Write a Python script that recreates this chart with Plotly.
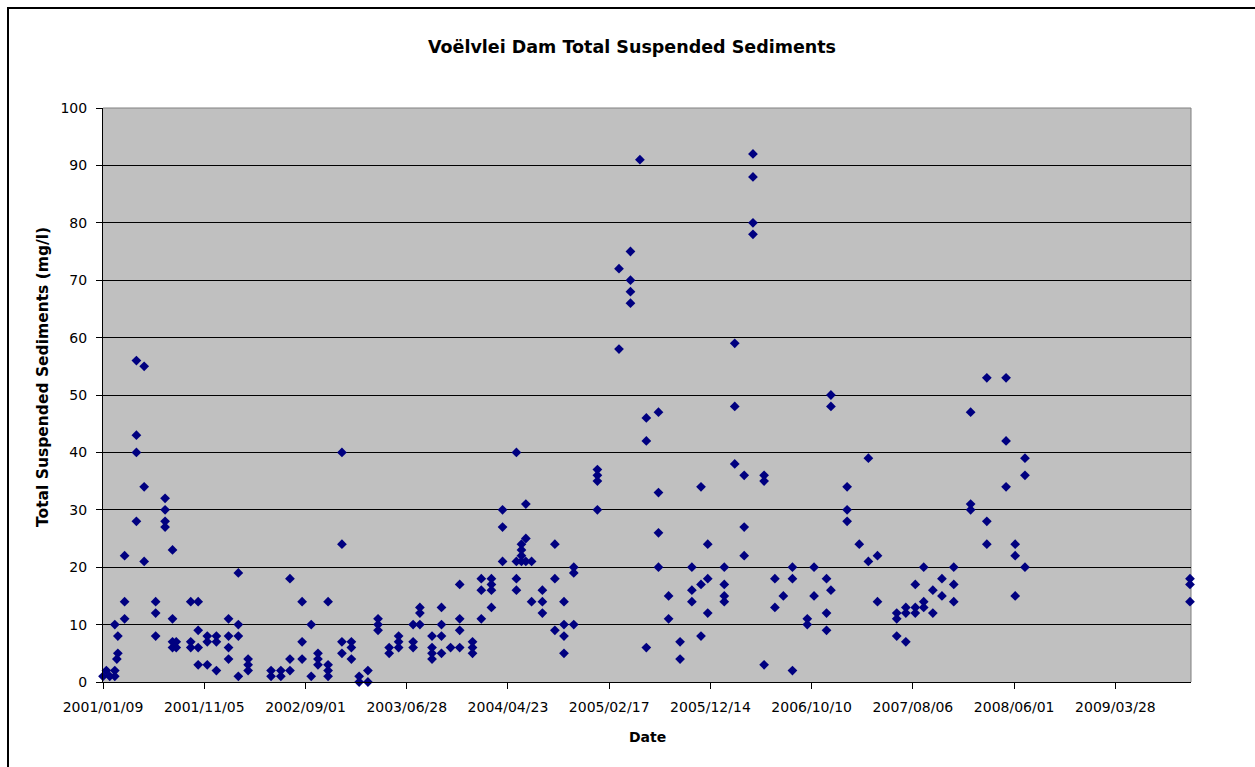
import plotly.graph_objects as go

# Sampling dates and Total Suspended Sediments (mg/l)
sample_dates = (
    ["2001-01-09", "2001-01-19", "2001-01-29"]
    + ["2001-02-13"] * 3 + ["2001-02-19"] + ["2001-02-22"] * 2
    + ["2001-03-14"] * 3 + ["2001-04-18"] * 4 + ["2001-05-11"] * 3
    + ["2001-06-14"] * 3 + ["2001-07-12"] * 4 + ["2001-08-03"] * 4
    + ["2001-08-14"] * 2 + ["2001-09-26"] * 3 + ["2001-10-18"] * 4
    + ["2001-11-14"] * 3 + ["2001-12-11"] * 3 + ["2002-01-16"] * 4
    + ["2002-02-14"] * 4 + ["2002-03-15"] * 3 + ["2002-05-22"] * 2
    + ["2002-06-20"] * 2 + ["2002-07-17"] * 3 + ["2002-08-22"] * 3
    + ["2002-09-18"] * 2 + ["2002-10-08"] * 3 + ["2002-11-07"] * 4
    + ["2002-12-18"] * 4 + ["2003-01-15"] * 3 + ["2003-02-07"] * 2
    + ["2003-03-05"] * 2 + ["2003-04-04"] * 3 + ["2003-05-07"] * 2
    + ["2003-06-04"] * 3 + ["2003-07-17"] * 3 + ["2003-08-06"] * 3
    + ["2003-09-11"] * 4 + ["2003-10-09"] * 4 + ["2003-11-05"]
    + ["2003-12-02"] * 4 + ["2004-01-09"] * 3 + ["2004-02-04"] * 3
    + ["2004-03-05"] * 4 + ["2004-04-07"] * 3 + ["2004-05-18"] * 4
    + ["2004-06-02"] * 4 + ["2004-06-15"] * 3 + ["2004-07-02"] * 2
    + ["2004-08-03"] * 3 + ["2004-09-09"] * 3 + ["2004-10-06"] * 4
    + ["2004-11-04"] * 3 + ["2005-01-13"] * 4 + ["2005-03-18"] * 2
    + ["2005-04-21"] * 4 + ["2005-05-19"] + ["2005-06-07"] * 3
    + ["2005-07-13"] * 4 + ["2005-08-12"] * 2 + ["2005-09-15"] * 2
    + ["2005-10-20"] * 3 + ["2005-11-16"] * 3 + ["2005-12-06"] * 3
    + ["2006-01-24"] * 4 + ["2006-02-24"] * 3 + ["2006-03-24"] * 3
    + ["2006-04-19"] * 4 + ["2006-05-22"] * 3 + ["2006-06-23"] * 2
    + ["2006-07-18"] + ["2006-08-14"] * 3 + ["2006-09-27"] * 2
    + ["2006-10-17"] * 2 + ["2006-11-23"] * 3 + ["2006-12-06"] * 3
    + ["2007-01-23"] * 3 + ["2007-02-28"] + ["2007-03-27"] * 2
    + ["2007-04-23"] * 2 + ["2007-06-19"] * 3 + ["2007-07-16"] * 3
    + ["2007-08-13"] * 3 + ["2007-09-07"] * 3 + ["2007-10-04"] * 2
    + ["2007-10-31"] * 2 + ["2007-12-05"] * 3 + ["2008-01-24"] * 3
    + ["2008-03-12"] * 3 + ["2008-05-08"] * 3 + ["2008-06-04"] * 3
    + ["2008-07-03"] * 3 + ["2009-11-04"] * 3
)

tss_mg_l = [
    1, 2, 1,
    1, 2, 10, 4, 5, 8,
    11, 14, 22, 56, 43, 40, 28, 55, 34, 21,
    14, 12, 8, 32, 30, 28, 27, 23, 11, 7, 6,
    7, 6, 14, 7, 6, 14, 9, 6, 3,
    8, 7, 3, 8, 7, 2, 11, 8, 6, 4,
    19, 10, 8, 1, 4, 3, 2, 2, 1,
    2, 1, 18, 4, 2, 14, 7, 4,
    10, 1, 5, 4, 3, 14, 3, 2, 1,
    40, 24, 7, 5, 7, 6, 4, 1, 0,
    2, 0, 11, 10, 9, 6, 5,
    8, 7, 6, 10, 7, 6, 13, 12, 10,
    8, 6, 5, 4, 13, 10, 8, 5, 6,
    17, 11, 9, 6, 7, 6, 5, 18, 16, 11,
    18, 17, 16, 13, 30, 27, 21, 40, 21, 18, 16,
    24, 23, 22, 21, 31, 25, 21, 21, 14,
    16, 14, 12, 24, 18, 9, 14, 10, 8, 5,
    20, 19, 10, 37, 36, 35, 30, 72, 58,
    75, 70, 68, 66, 91, 46, 42, 6,
    47, 33, 26, 20, 15, 11, 7, 4,
    20, 16, 14, 34, 17, 8, 24, 18, 12,
    20, 17, 15, 14, 59, 48, 38, 36, 27, 22,
    92, 88, 80, 78, 36, 35, 3, 18, 13,
    15, 20, 18, 2, 11, 10,
    20, 15, 18, 12, 9, 50, 48, 16,
    34, 30, 28, 24, 39, 21,
    22, 14, 12, 11, 8, 13, 12, 7,
    17, 13, 12, 20, 14, 13, 16, 12,
    18, 15, 20, 17, 14, 47, 31, 30,
    53, 28, 24, 53, 42, 34, 24, 22, 15,
    39, 36, 20, 18, 17, 14,
]

tick_dates = ["2001-01-09", "2001-11-05", "2002-09-01", "2003-06-28",
              "2004-04-23", "2005-02-17", "2005-12-14", "2006-10-10",
              "2007-08-06", "2008-06-01", "2009-03-28"]
tick_labels = [d.replace("-", "/") for d in tick_dates]
x_range = ["2001-01-09", "2009-11-07"]
y_ticks = list(range(0, 101, 10))

W, H = 1255, 767
L, R, T, B = 103, 64, 108, 85
pw, ph = W - L - R, H - T - B

def px_x(p):
    return (p - L) / pw

def px_y(p):
    return (H - B - p) / ph

fig = go.Figure(
    go.Scatter(
        x=sample_dates, y=tss_mg_l, mode="markers",
        marker=dict(symbol="diamond", size=7.5, color="#000080",
                    line=dict(width=0)),
        cliponaxis=False, showlegend=False,
    )
)

tick_font = dict(family="DejaVu Sans", size=14, color="black")

fig.update_layout(
    width=W, height=H,
    margin=dict(l=L, r=R, t=T, b=B),
    paper_bgcolor="white", plot_bgcolor="#C0C0C0",
    title=dict(text="Voëlvlei Dam Total Suspended Sediments",
               font=dict(family="DejaVu Sans", size=17.5, color="black",
                         weight="bold"),
               x=632 / W, xref="container", xanchor="center",
               y=1 - 47 / H, yref="container", yanchor="middle"),
    xaxis=dict(type="date", range=x_range, tickvals=tick_dates,
               ticktext=tick_labels, showgrid=False, zeroline=False,
               showline=True, linecolor="black", linewidth=1,
               ticks="outside", ticklen=6, tickcolor="black",
               tickfont=tick_font, ticklabelstandoff=6),
    yaxis=dict(range=[0, 100], tickvals=y_ticks, showgrid=True,
               gridcolor="black", gridwidth=1, zeroline=False,
               showline=True, linecolor="black", linewidth=1,
               ticks="outside", ticklen=6, tickcolor="black",
               tickfont=tick_font, ticklabelstandoff=6),
    shapes=[
        dict(type="line", xref="paper", yref="paper", x0=0, x1=1, y0=1, y1=1,
             line=dict(color="#808080", width=1), layer="above"),
        dict(type="line", xref="paper", yref="paper", x0=1, x1=1, y0=0, y1=1,
             line=dict(color="#808080", width=1), layer="below"),
        dict(type="rect", xref="paper", yref="paper",
             x0=px_x(8), x1=px_x(W + 20), y0=px_y(H + 20), y1=px_y(8),
             line=dict(color="black", width=2), fillcolor="rgba(0,0,0,0)",
             layer="above"),
    ],
    annotations=[
        dict(text="Date", xref="paper", yref="paper", x=0.5, y=px_y(737),
             xanchor="center", yanchor="middle", showarrow=False,
             font=dict(family="DejaVu Sans", size=14, color="black",
                       weight="bold")),
        dict(text="Total Suspended Sediments (mg/l)", xref="paper",
             yref="paper", x=px_x(43), y=px_y(377), xanchor="center",
             yanchor="middle", textangle=-90, showarrow=False,
             font=dict(family="DejaVu Sans", size=15.5, color="black",
                       weight="bold")),
    ],
)

fig.write_html(
    "out.html",
    config={"displayModeBar": False},
    post_script="document.body.style.margin='0';"
                "document.body.style.overflow='hidden';",
)
